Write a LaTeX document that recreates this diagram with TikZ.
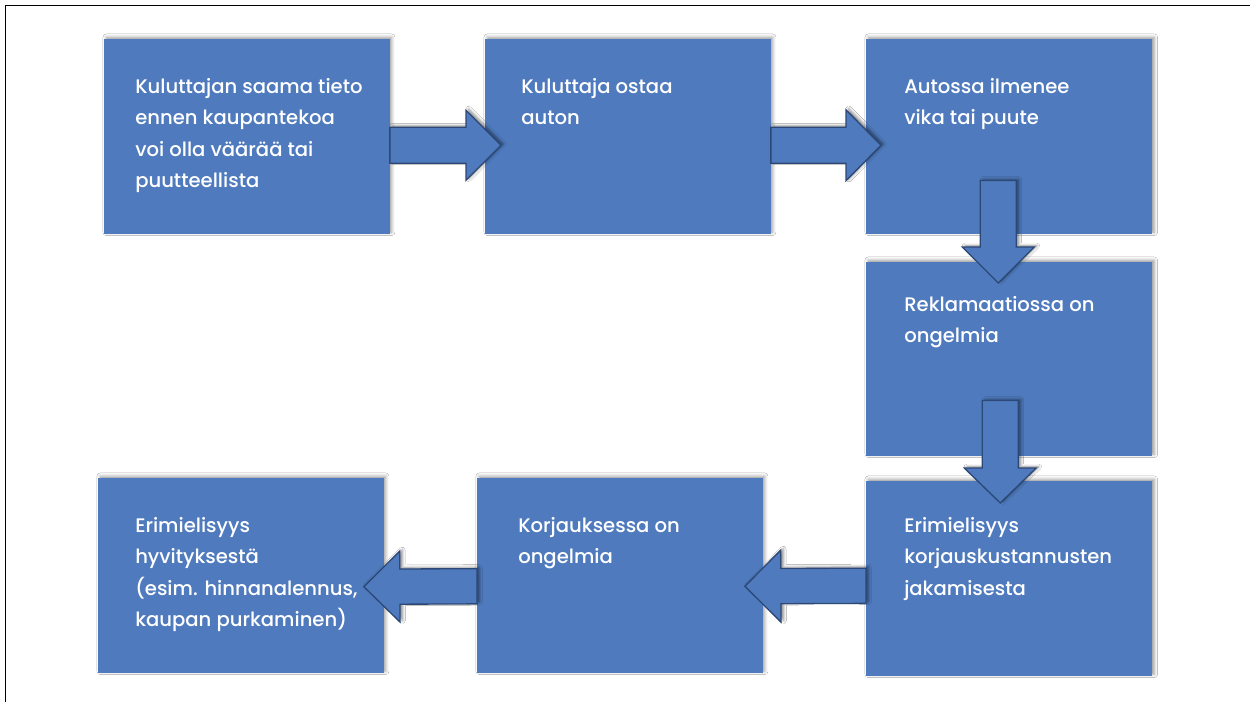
\documentclass[tikz,border=0pt]{standalone}
\usepackage{fontspec}
\setmainfont{Poppins Medium}
\usetikzlibrary{calc,shadows.blur}
\definecolor{boxblue}{RGB}{79,123,190}
\definecolor{arrowline}{RGB}{44,72,118}
\tikzset{
  box/.style={rectangle, fill=boxblue, draw=none, anchor=north west, inner sep=0pt,
    minimum width=214pt, minimum height=146.25pt,
    blur shadow={shadow xshift=1.5pt, shadow yshift=1.5pt, shadow blur radius=2.5pt, shadow opacity=40}},
  label/.style={anchor=north west, inner sep=0pt, align=left, text=white,
    font=\fontsize{14.7}{23.6}\selectfont},
  barrow/.style={fill=boxblue, draw=arrowline, line width=1pt, line join=miter,
    blur shadow={shadow xshift=2pt, shadow yshift=1pt, shadow blur radius=2pt, shadow opacity=45}},
}
\newcommand\blockarr[5]{%
  \coordinate (ah) at ($(#2)!#5!(#1)$);
  \path[barrow] ($(#1)!#3!90:(#2)$) -- ($(ah)!#3!90:(#2)$) -- ($(ah)!#4!90:(#2)$) -- (#2)
    -- ($(ah)!#4!-90:(#2)$) -- ($(ah)!#3!-90:(#2)$) -- ($(#1)!#3!-90:(#2)$) -- cycle;}
\begin{document}
\begin{tikzpicture}[x=0.75pt,y=-0.75pt]
\useasboundingbox (0,0) rectangle (1250,702);
\fill[white] (0,0) rectangle (1250,702);
\draw[line width=0.8pt] (5.5,702) -- (5.5,5.5) -- (1250,5.5);

\node[box] (b1) at (104,39) {};
\node[box] (b2) at (485,39) {};
\node[box, minimum width=214.5pt] (b3) at (866,39) {};
\node[box, minimum width=214.5pt, minimum height=145.5pt] (b4) at (866,262) {};
\node[box, minimum width=214.5pt] (b5) at (866,481) {};
\node[box] (b6) at (477,478) {};
\node[box, minimum height=146.25pt] (b7) at (98,478) {};

\node[label] (t1) at ($(b1.north west)+(31,39)$) {Kuluttajan saama tieto\\ennen kaupantekoa\\voi olla väärää tai\\puutteellista};
\node[label] (t2) at ($(b2.north west)+(36,39)$) {Kuluttaja ostaa\\auton};
\node[label] (t3) at ($(b3.north west)+(38,39)$) {Autossa ilmenee\\vika tai puute};
\node[label] (t4) at ($(b4.north west)+(38,34)$) {Reklamaatiossa on\\ongelmia};
\node[label] (t5) at ($(b5.north west)+(38,36)$) {Erimielisyys\\korjauskustannusten\\jakamisesta};
\node[label] (t6) at ($(b6.north west)+(41,39)$) {Korjauksessa on\\ongelmia};
\node[label] (t7) at ($(b7.north west)+(37,39)$) {Erimielisyys\\hyvityksestä\\(esim. hinnanalennus,\\kaupan purkaminen)};

\coordinate (a1s) at ($(b1.east)+(0,8.5)$);
\coordinate (a1e) at ($(b2.west)+(16,8.5)$);
\coordinate (a2s) at ($(b2.east)+(0,8.5)$);
\coordinate (a2e) at ($(b3.west)+(15,8.5)$);
\coordinate (d1s) at ($(b3.south)+(-11,-54)$);
\coordinate (d1e) at ($(b4.north)+(-11,21)$);
\coordinate (d2s) at ($(b4.south)+(-9,-56)$);
\coordinate (d2e) at ($(b5.north)+(-9,22)$);
\coordinate (l1s) at ($(b5.west)+(0,7)$);
\coordinate (l1e) at ($(b6.east)+(-18,10.5)$);
\coordinate (l2s) at ($(b6.west)+(0,10.5)$);
\coordinate (l2e) at ($(b7.east)+(-20,11)$);

\blockarr{a1s}{a1e}{13.5pt}{26.25pt}{26.25pt}
\blockarr{a2s}{a2e}{13.5pt}{26.6pt}{26.25pt}
\blockarr{d1s}{d1e}{13.5pt}{27pt}{27pt}
\blockarr{d2s}{d2e}{13.5pt}{27pt}{26.25pt}
\blockarr{l1s}{l1e}{13.2pt}{27pt}{27pt}
\blockarr{l2s}{l2e}{13.2pt}{26.6pt}{27pt}
\end{tikzpicture}
\end{document}
